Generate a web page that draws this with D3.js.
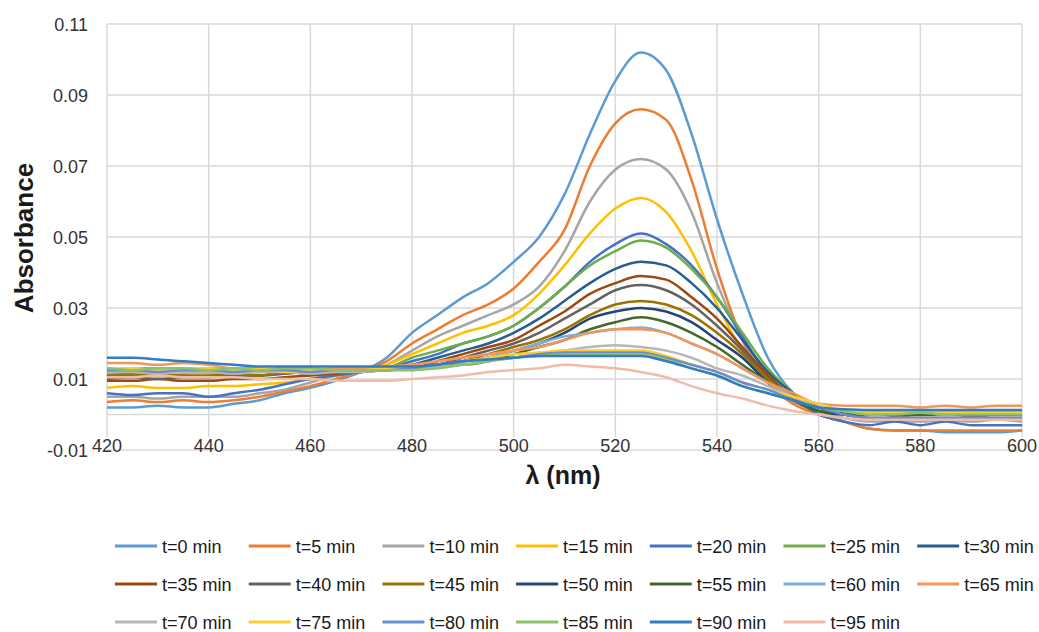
<!DOCTYPE html>
<html>
<head>
<meta charset="utf-8">
<script src="https://cdn.jsdelivr.net/npm/d3@7"></script>
<style>
  body { margin: 0; background: #fff; }
  text { font-family: "Liberation Sans", Arial, sans-serif; }
</style>
</head>
<body>
<div id="chart"></div>
<script>
// wavelengths (nm)
var wavelengths = [420,425,430,435,440,445,450,455,460,465,470,475,480,485,490,495,500,505,510,515,520,525,530,535,540,545,550,555,560,565,570,575,580,585,590,595,600];

var xTicks = [420,440,460,480,500,520,540,560,580,600];
var yTicks = [-0.01,0.01,0.03,0.05,0.07,0.09,0.11];

var seriesNames = ["t=0 min","t=5 min","t=10 min","t=15 min","t=20 min","t=25 min","t=30 min",
  "t=35 min","t=40 min","t=45 min","t=50 min","t=55 min","t=60 min","t=65 min",
  "t=70 min","t=75 min","t=80 min","t=85 min","t=90 min","t=95 min"];

var t0  = [0.002,0.002,0.0025,0.002,0.002,0.003,0.004,0.006,0.0075,0.0095,0.012,0.016,0.023,0.028,0.033,0.037,0.043,0.050,0.062,0.079,0.094,0.102,0.097,0.079,0.055,0.034,0.016,0.006,0.001,-0.002,-0.004,-0.0045,-0.0045,-0.005,-0.005,-0.005,-0.0045];
var t5  = [0.0035,0.004,0.0035,0.004,0.0035,0.004,0.005,0.0065,0.008,0.010,0.012,0.015,0.020,0.024,0.028,0.031,0.0355,0.043,0.052,0.070,0.082,0.086,0.083,0.066,0.041,0.021,0.009,0.003,0.0,-0.002,-0.004,-0.0045,-0.0045,-0.0045,-0.0045,-0.0045,-0.0045];
var t10 = [0.005,0.005,0.0045,0.005,0.005,0.005,0.006,0.007,0.009,0.011,0.012,0.014,0.018,0.022,0.025,0.028,0.031,0.036,0.046,0.060,0.069,0.072,0.069,0.057,0.037,0.021,0.010,0.004,0.001,-0.001,-0.002,-0.002,-0.002,-0.0015,-0.002,-0.0015,-0.002];
var t15 = [0.0075,0.008,0.0075,0.0075,0.008,0.008,0.0085,0.009,0.010,0.011,0.012,0.014,0.017,0.020,0.023,0.025,0.028,0.034,0.042,0.051,0.058,0.061,0.057,0.046,0.031,0.018,0.010,0.005,0.001,0.0,0.0,0.0005,0.0,0.0005,0.0,0.0005,0.0005];
var t20 = [0.006,0.0055,0.006,0.006,0.005,0.006,0.007,0.0085,0.010,0.011,0.012,0.013,0.015,0.017,0.020,0.022,0.025,0.030,0.036,0.043,0.048,0.051,0.048,0.042,0.033,0.022,0.011,0.005,0.0,-0.002,-0.003,-0.002,-0.003,-0.002,-0.003,-0.003,-0.003];
var t25 = [0.011,0.0115,0.011,0.011,0.0105,0.011,0.011,0.012,0.0115,0.012,0.012,0.013,0.016,0.018,0.020,0.022,0.025,0.030,0.036,0.042,0.046,0.049,0.047,0.041,0.033,0.023,0.013,0.006,0.002,0.001,0.0,0.0005,0.0,0.0,0.0005,0.0,0.0];
var t30 = [0.012,0.012,0.0125,0.012,0.012,0.012,0.0125,0.012,0.012,0.0125,0.0125,0.013,0.014,0.016,0.018,0.020,0.023,0.027,0.032,0.037,0.041,0.043,0.042,0.037,0.030,0.021,0.012,0.006,0.002,0.001,0.001,0.001,0.001,0.001,0.001,0.001,0.001];
var t35 = [0.0095,0.0095,0.010,0.0095,0.0095,0.010,0.010,0.0105,0.011,0.0115,0.012,0.0125,0.013,0.015,0.017,0.019,0.021,0.025,0.029,0.034,0.037,0.039,0.038,0.033,0.027,0.019,0.011,0.005,0.002,0.0,-0.001,-0.001,-0.001,-0.001,-0.0005,-0.001,-0.001];
var t40 = [0.010,0.0105,0.010,0.0105,0.0105,0.011,0.011,0.0115,0.012,0.012,0.0125,0.013,0.013,0.014,0.016,0.018,0.020,0.023,0.027,0.031,0.035,0.0365,0.035,0.031,0.025,0.018,0.010,0.005,0.002,0.0,-0.001,-0.0005,-0.001,-0.001,-0.0005,-0.001,-0.001];
var t45 = [0.011,0.011,0.0115,0.011,0.011,0.0115,0.011,0.012,0.0115,0.012,0.0125,0.0125,0.013,0.014,0.015,0.017,0.019,0.021,0.024,0.028,0.031,0.032,0.031,0.028,0.023,0.017,0.010,0.005,0.002,0.001,0.0,0.0,0.0005,0.0,0.0,0.0,0.0];
var t50 = [0.012,0.012,0.0125,0.012,0.012,0.012,0.0125,0.0125,0.012,0.0125,0.0125,0.013,0.013,0.014,0.015,0.016,0.018,0.020,0.023,0.027,0.029,0.030,0.029,0.026,0.021,0.016,0.009,0.004,0.001,0.0,0.0,0.0,0.0,0.0,0.0,0.0,0.0];
var t55 = [0.012,0.0125,0.012,0.012,0.0125,0.012,0.012,0.0125,0.0125,0.012,0.0125,0.013,0.013,0.014,0.014,0.015,0.017,0.019,0.021,0.024,0.026,0.0274,0.026,0.023,0.019,0.014,0.009,0.004,0.001,0.0005,0.0,0.0,0.0,0.0,0.0,0.0,0.0];
var t60 = [0.013,0.013,0.013,0.0125,0.013,0.013,0.0125,0.013,0.013,0.0125,0.013,0.013,0.013,0.014,0.015,0.016,0.018,0.020,0.022,0.023,0.024,0.0245,0.023,0.020,0.017,0.013,0.009,0.005,0.002,0.001,0.001,0.001,0.001,0.001,0.001,0.001,0.001];
var t65 = [0.0145,0.0145,0.014,0.0145,0.014,0.013,0.013,0.0125,0.0125,0.013,0.013,0.0135,0.014,0.015,0.016,0.017,0.018,0.019,0.021,0.023,0.024,0.024,0.023,0.020,0.017,0.013,0.009,0.006,0.003,0.0025,0.0025,0.0025,0.002,0.0025,0.002,0.0025,0.0025];
var t70 = [0.012,0.012,0.0115,0.012,0.012,0.0115,0.012,0.012,0.0115,0.012,0.012,0.0125,0.013,0.0135,0.014,0.015,0.016,0.017,0.018,0.019,0.0195,0.019,0.018,0.016,0.013,0.011,0.008,0.005,0.003,0.001,0.0,-0.001,-0.001,-0.0005,-0.001,-0.001,-0.001];
var t75 = [0.013,0.013,0.0125,0.013,0.013,0.0125,0.013,0.012,0.0125,0.0125,0.0125,0.013,0.013,0.014,0.015,0.016,0.017,0.0175,0.018,0.018,0.018,0.018,0.0165,0.014,0.012,0.009,0.007,0.005,0.003,0.001,0.0005,0.0005,0.0005,0.0005,0.0005,0.0005,0.0005];
var t80 = [0.0125,0.0125,0.012,0.0125,0.0125,0.012,0.0125,0.0125,0.012,0.0125,0.0125,0.0125,0.013,0.014,0.015,0.0155,0.016,0.017,0.0175,0.0175,0.0175,0.0175,0.016,0.014,0.012,0.009,0.007,0.004,0.002,0.0,-0.001,-0.001,-0.001,-0.001,-0.001,-0.001,-0.001];
var t85 = [0.013,0.0125,0.013,0.013,0.0125,0.013,0.0125,0.013,0.013,0.0125,0.0125,0.0125,0.0125,0.013,0.014,0.015,0.016,0.0165,0.017,0.017,0.017,0.017,0.0155,0.013,0.011,0.008,0.006,0.004,0.002,0.001,0.0,0.0,0.0005,0.0,0.0,0.0,0.0];
var t90 = [0.016,0.016,0.0155,0.015,0.0145,0.014,0.0135,0.0135,0.0135,0.0135,0.0135,0.0135,0.0135,0.014,0.015,0.0155,0.016,0.0165,0.0165,0.0165,0.0165,0.0165,0.015,0.013,0.011,0.008,0.006,0.004,0.002,0.0015,0.0013,0.0013,0.0013,0.0013,0.0013,0.0013,0.0013];
var t95 = [0.0105,0.0105,0.011,0.0105,0.0105,0.0105,0.010,0.010,0.010,0.0095,0.0095,0.0095,0.010,0.0105,0.011,0.012,0.0125,0.013,0.014,0.0135,0.013,0.012,0.0105,0.008,0.006,0.0045,0.0025,0.001,0.0,-0.001,-0.0015,-0.0015,-0.0015,-0.0015,-0.0015,-0.0015,-0.0015];

var allSeries = [t0,t5,t10,t15,t20,t25,t30,t35,t40,t45,t50,t55,t60,t65,t70,t75,t80,t85,t90,t95];

var colors = ["#5B9BD5","#ED7D31","#A5A5A5","#FFC000","#4472C4","#70AD47","#255E91",
  "#9E480E","#636363","#997300","#264478","#43682B","#7CAFDD","#F1975A",
  "#B7B7B7","#FFCD33","#698ED0","#8CC168","#327DC2","#F2BBA6"];

var svgWidth = 1039, svgHeight = 632;

var svg = d3.select("#chart").append("svg")
  .attr("width", svgWidth)
  .attr("height", svgHeight);

var x = d3.scaleLinear().domain([420, 600]).range([107, 1022]);
var y = d3.scaleLinear().domain([-0.01, 0.11]).range([450, 24]);

// gridlines
svg.append("g").selectAll("line").data(yTicks).enter().append("line")
  .attr("x1", x(420)).attr("x2", x(600))
  .attr("y1", d => y(d)).attr("y2", d => y(d))
  .attr("stroke", "#D9D9D9").attr("stroke-width", 1.5);

svg.append("g").selectAll("line").data(xTicks).enter().append("line")
  .attr("x1", d => x(d)).attr("x2", d => x(d))
  .attr("y1", y(0.11)).attr("y2", 437)
  .attr("stroke", "#D9D9D9").attr("stroke-width", 1.5);

// horizontal axis line at zero
svg.append("line")
  .attr("x1", x(420)).attr("x2", x(600))
  .attr("y1", y(0)).attr("y2", y(0))
  .attr("stroke", "#D9D9D9").attr("stroke-width", 1.5);

// tick labels
svg.append("g").selectAll("text").data(yTicks).enter().append("text")
  .attr("x", 88).attr("y", d => y(d) + 7)
  .attr("text-anchor", "end")
  .attr("font-size", "18px").attr("fill", "#333")
  .text(d => d.toFixed(2));

svg.append("g").selectAll("text").data(xTicks).enter().append("text")
  .attr("x", d => x(d)).attr("y", 452)
  .attr("text-anchor", "middle")
  .attr("font-size", "18px").attr("fill", "#333")
  .text(d => d);

// series
var line = d3.line()
  .x((d, i) => x(wavelengths[i]))
  .y(d => y(d))
  .curve(d3.curveMonotoneX);

svg.append("g").selectAll("path").data(allSeries).enter().append("path")
  .attr("d", line)
  .attr("fill", "none")
  .attr("stroke", (d, i) => colors[i])
  .attr("stroke-width", 2.5)
  .attr("stroke-linejoin", "round");

// axis titles
svg.append("text")
  .attr("transform", "translate(33, 238) rotate(-90)")
  .attr("text-anchor", "middle")
  .attr("font-size", "26px").attr("font-weight", "bold").attr("fill", "#1a1a1a")
  .text("Absorbance");

svg.append("text")
  .attr("x", 563).attr("y", 484)
  .attr("text-anchor", "middle")
  .attr("font-size", "25px").attr("font-weight", "bold").attr("fill", "#1a1a1a")
  .text("λ (nm)");

// legend
var legend = svg.append("g").selectAll("g").data(seriesNames).enter().append("g")
  .attr("transform", (d, i) => `translate(${115 + (i % 7) * 133.7}, ${546 + Math.floor(i / 7) * 38})`);

legend.append("line")
  .attr("x1", 0).attr("x2", 42).attr("y1", 0).attr("y2", 0)
  .attr("stroke", (d, i) => colors[i]).attr("stroke-width", 3);

legend.append("text")
  .attr("x", 47).attr("y", 6.5)
  .attr("font-size", "18px").attr("fill", "#1a1a1a")
  .text(d => d);
</script>
</body>
</html>
